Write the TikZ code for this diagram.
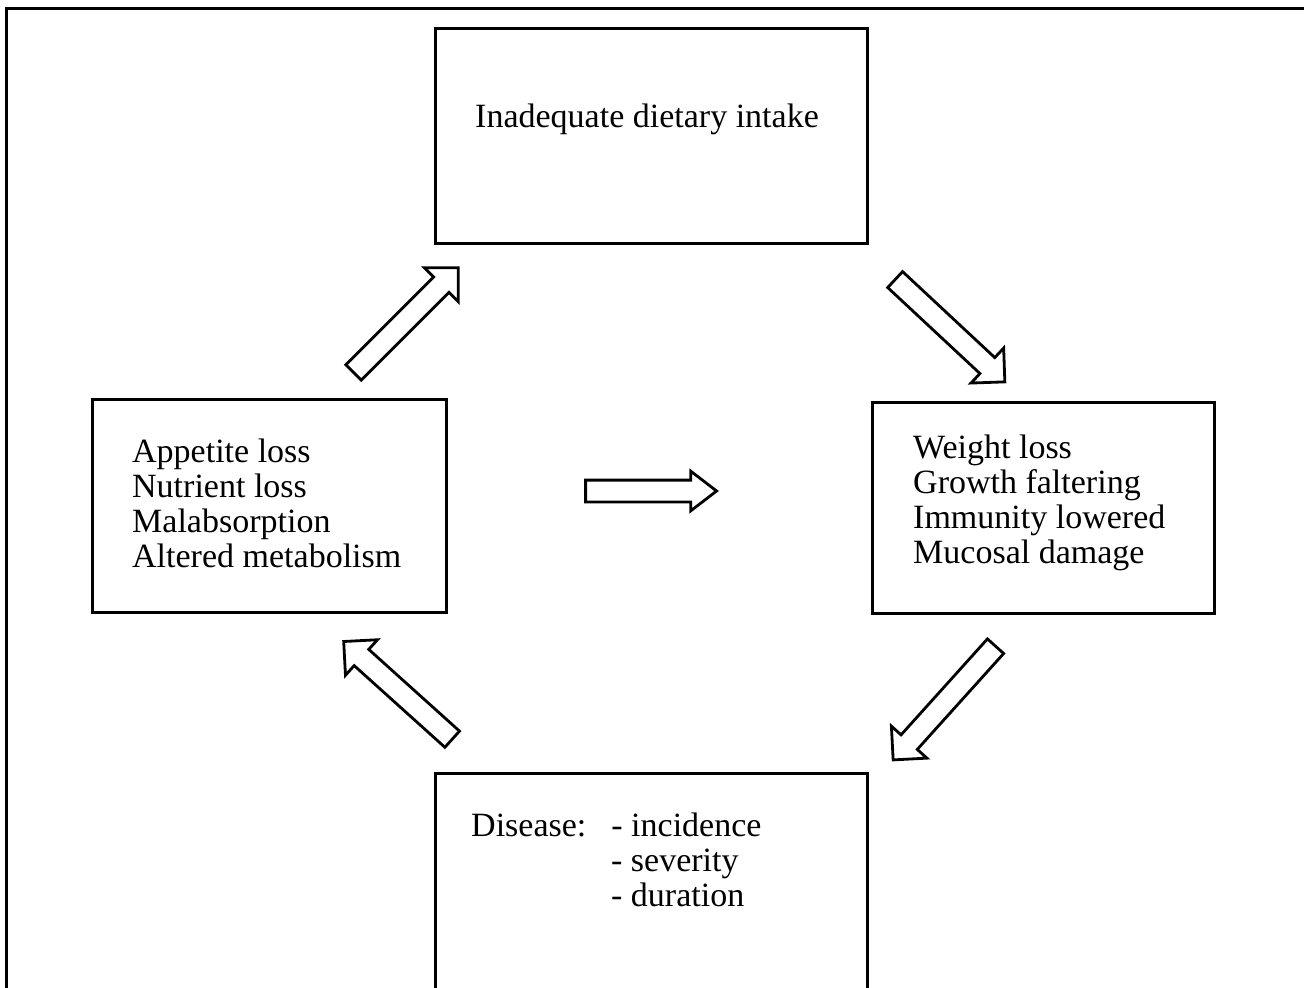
\documentclass[tikz,border=0pt]{standalone}
\usepackage{fontspec}
\setmainfont{Liberation Serif}
\usetikzlibrary{shapes.arrows}
\begin{document}
\begin{tikzpicture}[x=1pt,y=-1pt,
  box/.style={draw, line width=3.2pt, rectangle, inner sep=0pt, outer sep=0pt, anchor=north west},
  boxtext/.style={anchor=north west, inner sep=0pt, align=left, font=\fontsize{34}{35}\selectfont},
  fatarrow/.style={single arrow, draw, line width=2.8pt, inner xsep=0pt, inner ysep=9.5pt, outer sep=0pt,
    single arrow head extend=13pt, single arrow tip angle=90},
]
\clip (0,0) rectangle (1304,988);
\fill[white] (0,0) rectangle (1304,988);

% outer frame (top and left edges)
\coordinate (frameBL) at (6,1000);
\coordinate (frameTL) at (6,8);
\coordinate (frameTR) at (1310,8);
\draw[line width=3pt] (frameBL) -- (frameTL) -- (frameTR);

% the four boxes of the cycle
\node[box, minimum width=432pt, minimum height=215pt] (intake) at (435.5,28.5) {};
\node[box, minimum width=354pt, minimum height=213pt] (causes) at (92.5,399.5) {};
\node[box, minimum width=342pt, minimum height=211pt] (effects) at (872.5,402.5) {};
\node[box, minimum width=432pt, minimum height=250pt] (disease) at (435.5,773.5) {};

% box texts
\node[boxtext] (intakeText) at (475,104) {Inadequate dietary intake};
\node[boxtext] (causesText) at (132,439) {Appetite loss\\Nutrient loss\\Malabsorption\\Altered metabolism};
\node[boxtext] (effectsText) at (913,435) {Weight loss\\Growth faltering\\Immunity lowered\\Mucosal damage};
\node[boxtext] (diseaseText) at (471,813) {Disease:\hspace{25pt}- incidence\\\hspace*{140pt}- severity\\\hspace*{140pt}- duration};

% block arrows
\node[fatarrow, rotate=45,   minimum height=148pt] (toIntake)  at (402,324) {};
\node[fatarrow, rotate=-43,  minimum height=150pt] (toEffects) at (946,327) {};
\node[fatarrow, rotate=-132, minimum height=153pt] (toDisease) at (948,699) {};
\node[fatarrow, rotate=138,  minimum height=146pt] (toCauses)  at (402,694) {};
\node[fatarrow, minimum height=131pt, inner ysep=9.5pt, single arrow head extend=9pt,
  single arrow tip angle=75] (across) at (644,491) {};
\end{tikzpicture}
\end{document}
